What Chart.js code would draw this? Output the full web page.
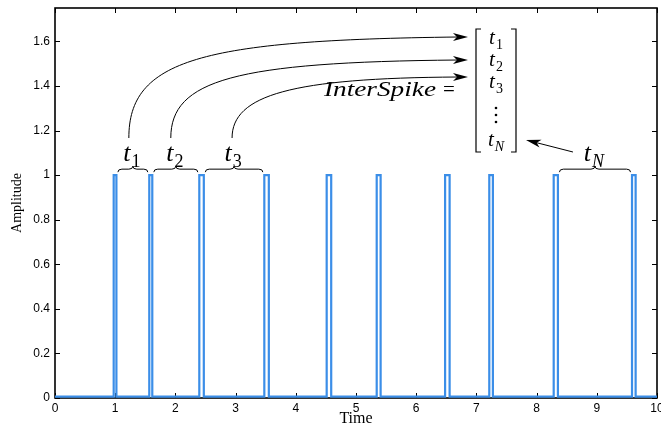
<!DOCTYPE html>
<html lang="en">
<head>
    <meta charset="UTF-8">
    <title>InterSpike</title>
    <script src="https://cdn.jsdelivr.net/npm/chart.js"></script>
    <style>
        body { margin: 0; background: #fff; }
    </style>
</head>
<body>
    <canvas id="spikeChart" width="661" height="428"></canvas>

    <script>
        // spike onsets (s) and pulse widths (s)
        const spikeOnsets = [0.975, 1.566, 2.397, 3.477, 4.513, 5.344, 6.48, 7.214, 8.284, 9.585];
        const spikeWidths = [0.045, 0.05, 0.075, 0.075, 0.075, 0.065, 0.075, 0.06, 0.07, 0.06];
        const baseline = 0.006;
        const peak = 1.0;
        const xTicks = [0, 1, 2, 3, 4, 5, 6, 7, 8, 9, 10];
        const yTicks = [0, 0.2, 0.4, 0.6, 0.8, 1, 1.2, 1.4, 1.6];
        // which gaps get a brace + label
        const braceGaps = [[0, 1, '1'], [1, 2, '2'], [2, 3, '3'], [8, 9, 'N']];

        const points = [{ x: 0, y: baseline }];
        spikeOnsets.forEach((t, i) => {
            const end = t + spikeWidths[i];
            points.push({ x: t, y: baseline }, { x: t, y: peak }, { x: end, y: peak }, { x: end, y: baseline });
        });
        points.push({ x: 10, y: baseline });

        const mathFont = "'Liberation Serif', 'DejaVu Serif', serif";

        function drawT(ctx, cx, baseY, sub, size) {
            ctx.font = 'italic ' + size + 'px ' + mathFont;
            const wT = ctx.measureText('t').width;
            const subSize = Math.round(size * 0.68);
            const subStyle = (sub === 'N' ? 'italic ' : '') + subSize + 'px ' + mathFont;
            ctx.font = subStyle;
            const wS = ctx.measureText(sub).width;
            const x0 = cx - (wT + wS + 1) / 2;
            ctx.font = 'italic ' + size + 'px ' + mathFont;
            ctx.textAlign = 'left';
            ctx.textBaseline = 'alphabetic';
            ctx.fillText('t', x0, baseY);
            ctx.font = subStyle;
            ctx.fillText(sub, x0 + wT + 1, baseY + size * 0.22);
        }

        function brace(ctx, x1, x2, y, h) {
            const m = (x1 + x2) / 2, r = 4, yc = y - h / 2;
            ctx.beginPath();
            ctx.moveTo(x1, y);
            ctx.quadraticCurveTo(x1, yc, x1 + r, yc);
            ctx.lineTo(m - r, yc);
            ctx.quadraticCurveTo(m, yc, m, y - h);
            ctx.quadraticCurveTo(m, yc, m + r, yc);
            ctx.lineTo(x2 - r, yc);
            ctx.quadraticCurveTo(x2, yc, x2, y);
            ctx.stroke();
        }

        function arrowHead(ctx, x, y, angle) {
            const len = 15, half = 4;
            ctx.save();
            ctx.translate(x, y);
            ctx.rotate(angle);
            ctx.beginPath();
            ctx.moveTo(0, 0);
            ctx.lineTo(-len, -half);
            ctx.lineTo(-len + 4, 0);
            ctx.lineTo(-len, half);
            ctx.closePath();
            ctx.fill();
            ctx.restore();
        }

        const axesBox = {
            id: 'axesBox',
            beforeDatasetsDraw(chart) {
                const { ctx, chartArea: a, scales: { x, y } } = chart;
                ctx.save();
                ctx.strokeStyle = '#000';
                ctx.lineWidth = 1;
                ctx.beginPath();
                xTicks.forEach(v => {
                    const px = Math.round(x.getPixelForValue(v)) + 0.5;
                    ctx.moveTo(px, a.bottom); ctx.lineTo(px, a.bottom - 5);
                    ctx.moveTo(px, a.top); ctx.lineTo(px, a.top + 5);
                });
                yTicks.forEach(v => {
                    const py = Math.round(y.getPixelForValue(v)) + 0.5;
                    ctx.moveTo(a.left, py); ctx.lineTo(a.left + 5, py);
                    ctx.moveTo(a.right, py); ctx.lineTo(a.right - 5, py);
                });
                ctx.stroke();
                ctx.lineWidth = 1.6;
                ctx.strokeRect(a.left, a.top, a.right - a.left, a.bottom - a.top);
                ctx.restore();
            },
            afterDraw(chart) {
                const { ctx, scales: { x, y } } = chart;
                ctx.save();
                ctx.strokeStyle = '#000';
                ctx.fillStyle = '#000';
                ctx.lineWidth = 1;
                const by = y.getPixelForValue(peak) - 3;
                const mids = [];
                braceGaps.forEach(([i, j, sub]) => {
                    const x1 = x.getPixelForValue(spikeOnsets[i] + spikeWidths[i]) + 1.5;
                    const x2 = x.getPixelForValue(spikeOnsets[j]) - 1.5;
                    brace(ctx, x1, x2, by, 6);
                    const m = (x1 + x2) / 2;
                    mids.push(m);
                    drawT(ctx, m - 1, by - 11, sub, 26);
                });

                // curved arrows from t1..t3 to the vector
                const tipX = 468;
                const tips = [37, 60, 77];
                const starts = [mids[0] - 4, mids[1] - 5, mids[2] - 2];
                const ctrl = [[60, 200, 40], [80, 235, 62], [95, 292, 78]];
                starts.forEach((sx, k) => {
                    const sy = 138;
                    ctx.beginPath();
                    ctx.moveTo(sx, sy);
                    ctx.bezierCurveTo(sx, ctrl[k][0], ctrl[k][1], ctrl[k][2], tipX - 10, tips[k]);
                    ctx.stroke();
                    const ang = Math.atan2(tips[k] - ctrl[k][2], tipX - ctrl[k][1]);
                    arrowHead(ctx, tipX, tips[k], ang * 0.3);
                });

                // arrow from t_N label to the vector
                const nx = mids[3] - 22, ny = 152;
                ctx.beginPath();
                ctx.moveTo(nx, ny);
                ctx.lineTo(530, 141);
                ctx.stroke();
                arrowHead(ctx, 526, 140, Math.atan2(140 - ny, 526 - nx));

                // vector brackets
                const bl = 476, br = 516, bt = 29, bb = 152;
                ctx.lineWidth = 1.2;
                ctx.beginPath();
                ctx.moveTo(bl + 5, bt); ctx.lineTo(bl, bt); ctx.lineTo(bl, bb); ctx.lineTo(bl + 5, bb);
                ctx.moveTo(br - 5, bt); ctx.lineTo(br, bt); ctx.lineTo(br, bb); ctx.lineTo(br - 5, bb);
                ctx.stroke();
                const vc = (bl + br) / 2;
                drawT(ctx, vc, 44, '1', 21);
                drawT(ctx, vc, 66, '2', 21);
                drawT(ctx, vc, 88, '3', 21);
                [108, 115, 122].forEach(dy => {
                    ctx.beginPath();
                    ctx.arc(vc, dy, 1.3, 0, Math.PI * 2);
                    ctx.fill();
                });
                drawT(ctx, vc, 146, 'N', 21);

                // InterSpike =
                ctx.font = 'italic 21px ' + mathFont;
                ctx.textAlign = 'left';
                ctx.textBaseline = 'alphabetic';
                const label = 'InterSpike';
                const w = ctx.measureText(label).width;
                const sx = 112 / w;
                ctx.save();
                ctx.translate(324, 96);
                ctx.scale(sx, 1);
                ctx.fillText(label, 0, 0);
                ctx.restore();
                ctx.font = '21px ' + mathFont;
                ctx.fillText('=', 443, 96);
                ctx.restore();
            }
        };

        const tickFont = { family: "'Liberation Sans', Arial, sans-serif", size: 12 };

        new Chart(document.getElementById('spikeChart'), {
            type: 'line',
            data: {
                datasets: [{
                    data: points,
                    borderColor: '#3b8ee8',
                    borderWidth: 2.2,
                    pointRadius: 0,
                    tension: 0,
                    fill: false
                }]
            },
            options: {
                responsive: false,
                animation: false,
                layout: { padding: { left: 0, right: 4, top: 8, bottom: 0 } },
                plugins: { legend: { display: false }, tooltip: { enabled: false } },
                scales: {
                    x: {
                        type: 'linear',
                        min: 0,
                        max: 10,
                        afterBuildTicks: s => { s.ticks = xTicks.map(v => ({ value: v })); },
                        afterFit: s => { s.height = 30; s.paddingLeft = 0; s.paddingRight = 0; },
                        grid: { display: false, drawTicks: false },
                        border: { display: false },
                        ticks: { padding: 3, color: '#000', font: tickFont, maxRotation: 0, autoSkip: false },
                        title: { display: true, text: 'Time', color: '#000', font: { family: mathFont, size: 16 }, padding: 0 }
                    },
                    y: {
                        min: 0,
                        max: 1.75,
                        afterBuildTicks: s => { s.ticks = yTicks.map(v => ({ value: v })); },
                        afterFit: s => { s.width = 55; s.paddingTop = 0; s.paddingBottom = 0; },
                        grid: { display: false, drawTicks: false },
                        border: { display: false },
                        ticks: {
                            padding: 5, color: '#000', font: tickFont, autoSkip: false,
                            callback: v => String(Number(v.toFixed(1)))
                        },
                        title: { display: true, text: 'Amplitude', color: '#000', font: { family: mathFont, size: 14 }, padding: { top: 9, bottom: 0 } }
                    }
                }
            },
            plugins: [axesBox]
        });
    </script>
</body>
</html>
